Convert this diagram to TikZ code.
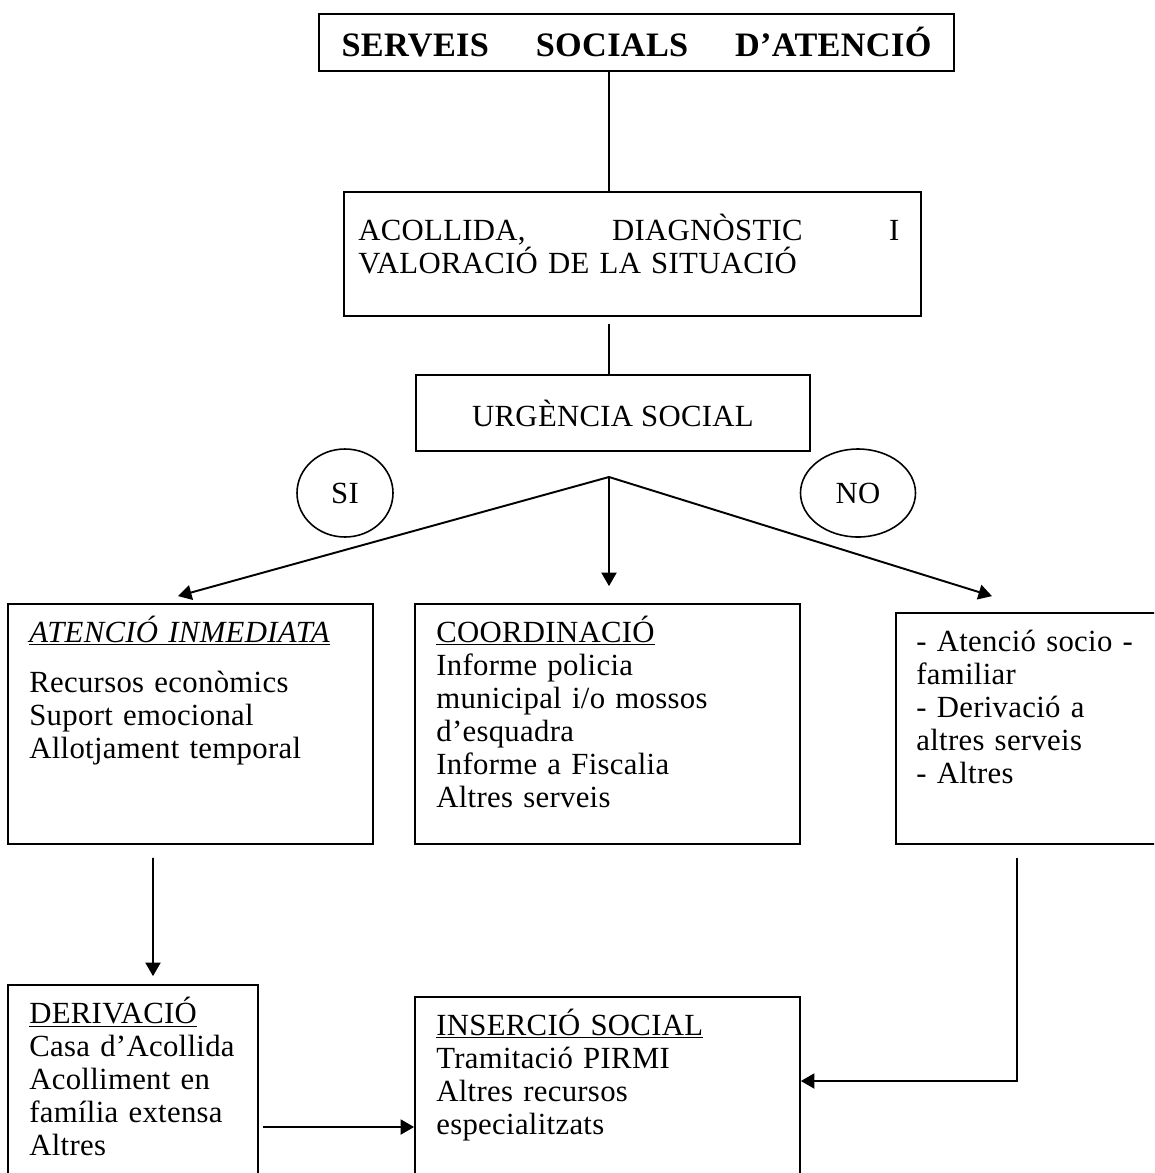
\documentclass[tikz,border=0pt]{standalone}
\usepackage{fontspec}
\setmainfont{Liberation Serif}[LetterSpace=1]
\usetikzlibrary{arrows.meta,shapes.geometric}
\begin{document}
\begin{tikzpicture}[
    caixa/.style={draw, line width=1pt, inner sep=0pt},
    txt/.style={anchor=base west, align=left, inner sep=0pt, text width=#1},
    bombolla/.style={draw, ellipse, line width=0.9pt, inner sep=0pt},
    fletxa/.style={line width=1.1pt, -{Triangle[length=0.27cm,width=0.3cm]}},
    linia/.style={line width=0.9pt},
    font=\fontsize{17.5pt}{18.8pt}\selectfont]
    \useasboundingbox (0,0) rectangle (23.08,-23.46);
    \clip (0,0) rectangle (23.08,-23.46);

    % Caixes
    \node[caixa, minimum width=12.7cm, minimum height=1.14cm] (titol) at (12.73,-0.85)
        {\bfseries\fontsize{19.5pt}{22pt}\selectfont\makebox[11.8cm][s]{SERVEIS\hfill SOCIALS\hfill D’ATENCIÓ}};
    \node[caixa, minimum width=11.54cm, minimum height=2.48cm] (acoll) at (12.65,-5.08) {};
    \node[txt=11cm] (acollT) at (7.16,-4.8)
        {\makebox[10.82cm][s]{ACOLLIDA,\hfill DIAGNÒSTIC\hfill I}\\ VALORACIÓ DE LA SITUACIÓ};
    \node[caixa, minimum width=7.88cm, minimum height=1.52cm] (urg) at (12.26,-8.26) {URGÈNCIA SOCIAL};
    \node[bombolla, minimum width=1.92cm, minimum height=1.76cm] (si) at (6.9,-9.86) {SI};
    \node[bombolla, minimum width=2.3cm, minimum height=1.76cm] (no) at (17.16,-9.86) {NO};
    \coordinate (bifurc) at (12.18,-9.54);

    \node[caixa, minimum width=7.3cm, minimum height=4.8cm] (aten) at (3.81,-14.48) {};
    \node[txt=6.8cm] (atenT) at (0.58,-12.84)
        {\underline{\itshape ATENCIÓ INMEDIATA}\\[0.34cm]
         Recursos econòmics\\ Suport emocional\\ Allotjament temporal};
    \node[caixa, minimum width=7.7cm, minimum height=4.8cm] (coord) at (12.15,-14.48) {};
    \node[txt=7.2cm] (coordT) at (8.72,-12.84)
        {\underline{COORDINACIÓ}\\ Informe policia\\ municipal i/o mossos\\ d’esquadra\\ Informe a Fiscalia\\ Altres serveis};
    \node[caixa, minimum width=5.48cm, minimum height=4.62cm] (altres) at (20.66,-14.57) {};
    \node[txt=4.8cm] (altresT) at (18.32,-13.02)
        {- Atenció socio -\\ familiar\\ - Derivació a\\ altres serveis\\ - Altres};

    \node[caixa, minimum width=5cm, minimum height=4.2cm] (deriv) at (2.66,-21.8) {};
    \node[txt=4.6cm] (derivT) at (0.58,-20.46)
        {\underline{DERIVACIÓ}\\ Casa d’Acollida\\ Acolliment en\\ família extensa\\ Altres};
    \node[caixa, minimum width=7.7cm, minimum height=3.96cm] (inser) at (12.15,-21.92) {};
    \node[txt=7.2cm] (inserT) at (8.72,-20.7)
        {\underline{INSERCIÓ SOCIAL}\\ Tramitació PIRMI\\ Altres recursos\\ especialitzats};

    % Connexions
    \draw[linia] (titol.south -| bifurc) -- (acoll.north -| bifurc);
    \draw[linia] ([yshift=-0.14cm]acoll.south -| bifurc) -- (urg.north -| bifurc);
    \draw[fletxa] (bifurc) -- ([xshift=-0.25cm,yshift=0.14cm]aten.north);
    \draw[fletxa] (bifurc) -- ([yshift=0.34cm]coord.north -| bifurc);
    \draw[fletxa] (bifurc) -- ([xshift=-0.82cm,yshift=0.32cm]altres.north);
    \draw[fletxa] ([xshift=-0.75cm,yshift=-0.26cm]aten.south) -- ([xshift=0.4cm,yshift=0.16cm]deriv.north);
    \draw[fletxa] ([xshift=0.08cm,yshift=-0.74cm]deriv.east) -- ([yshift=-0.74cm]deriv.east -| inser.west);
    \draw[fletxa] ([xshift=-0.32cm,yshift=-0.26cm]altres.south) |- ([yshift=0.3cm]inser.east);

\end{tikzpicture}
\end{document}
